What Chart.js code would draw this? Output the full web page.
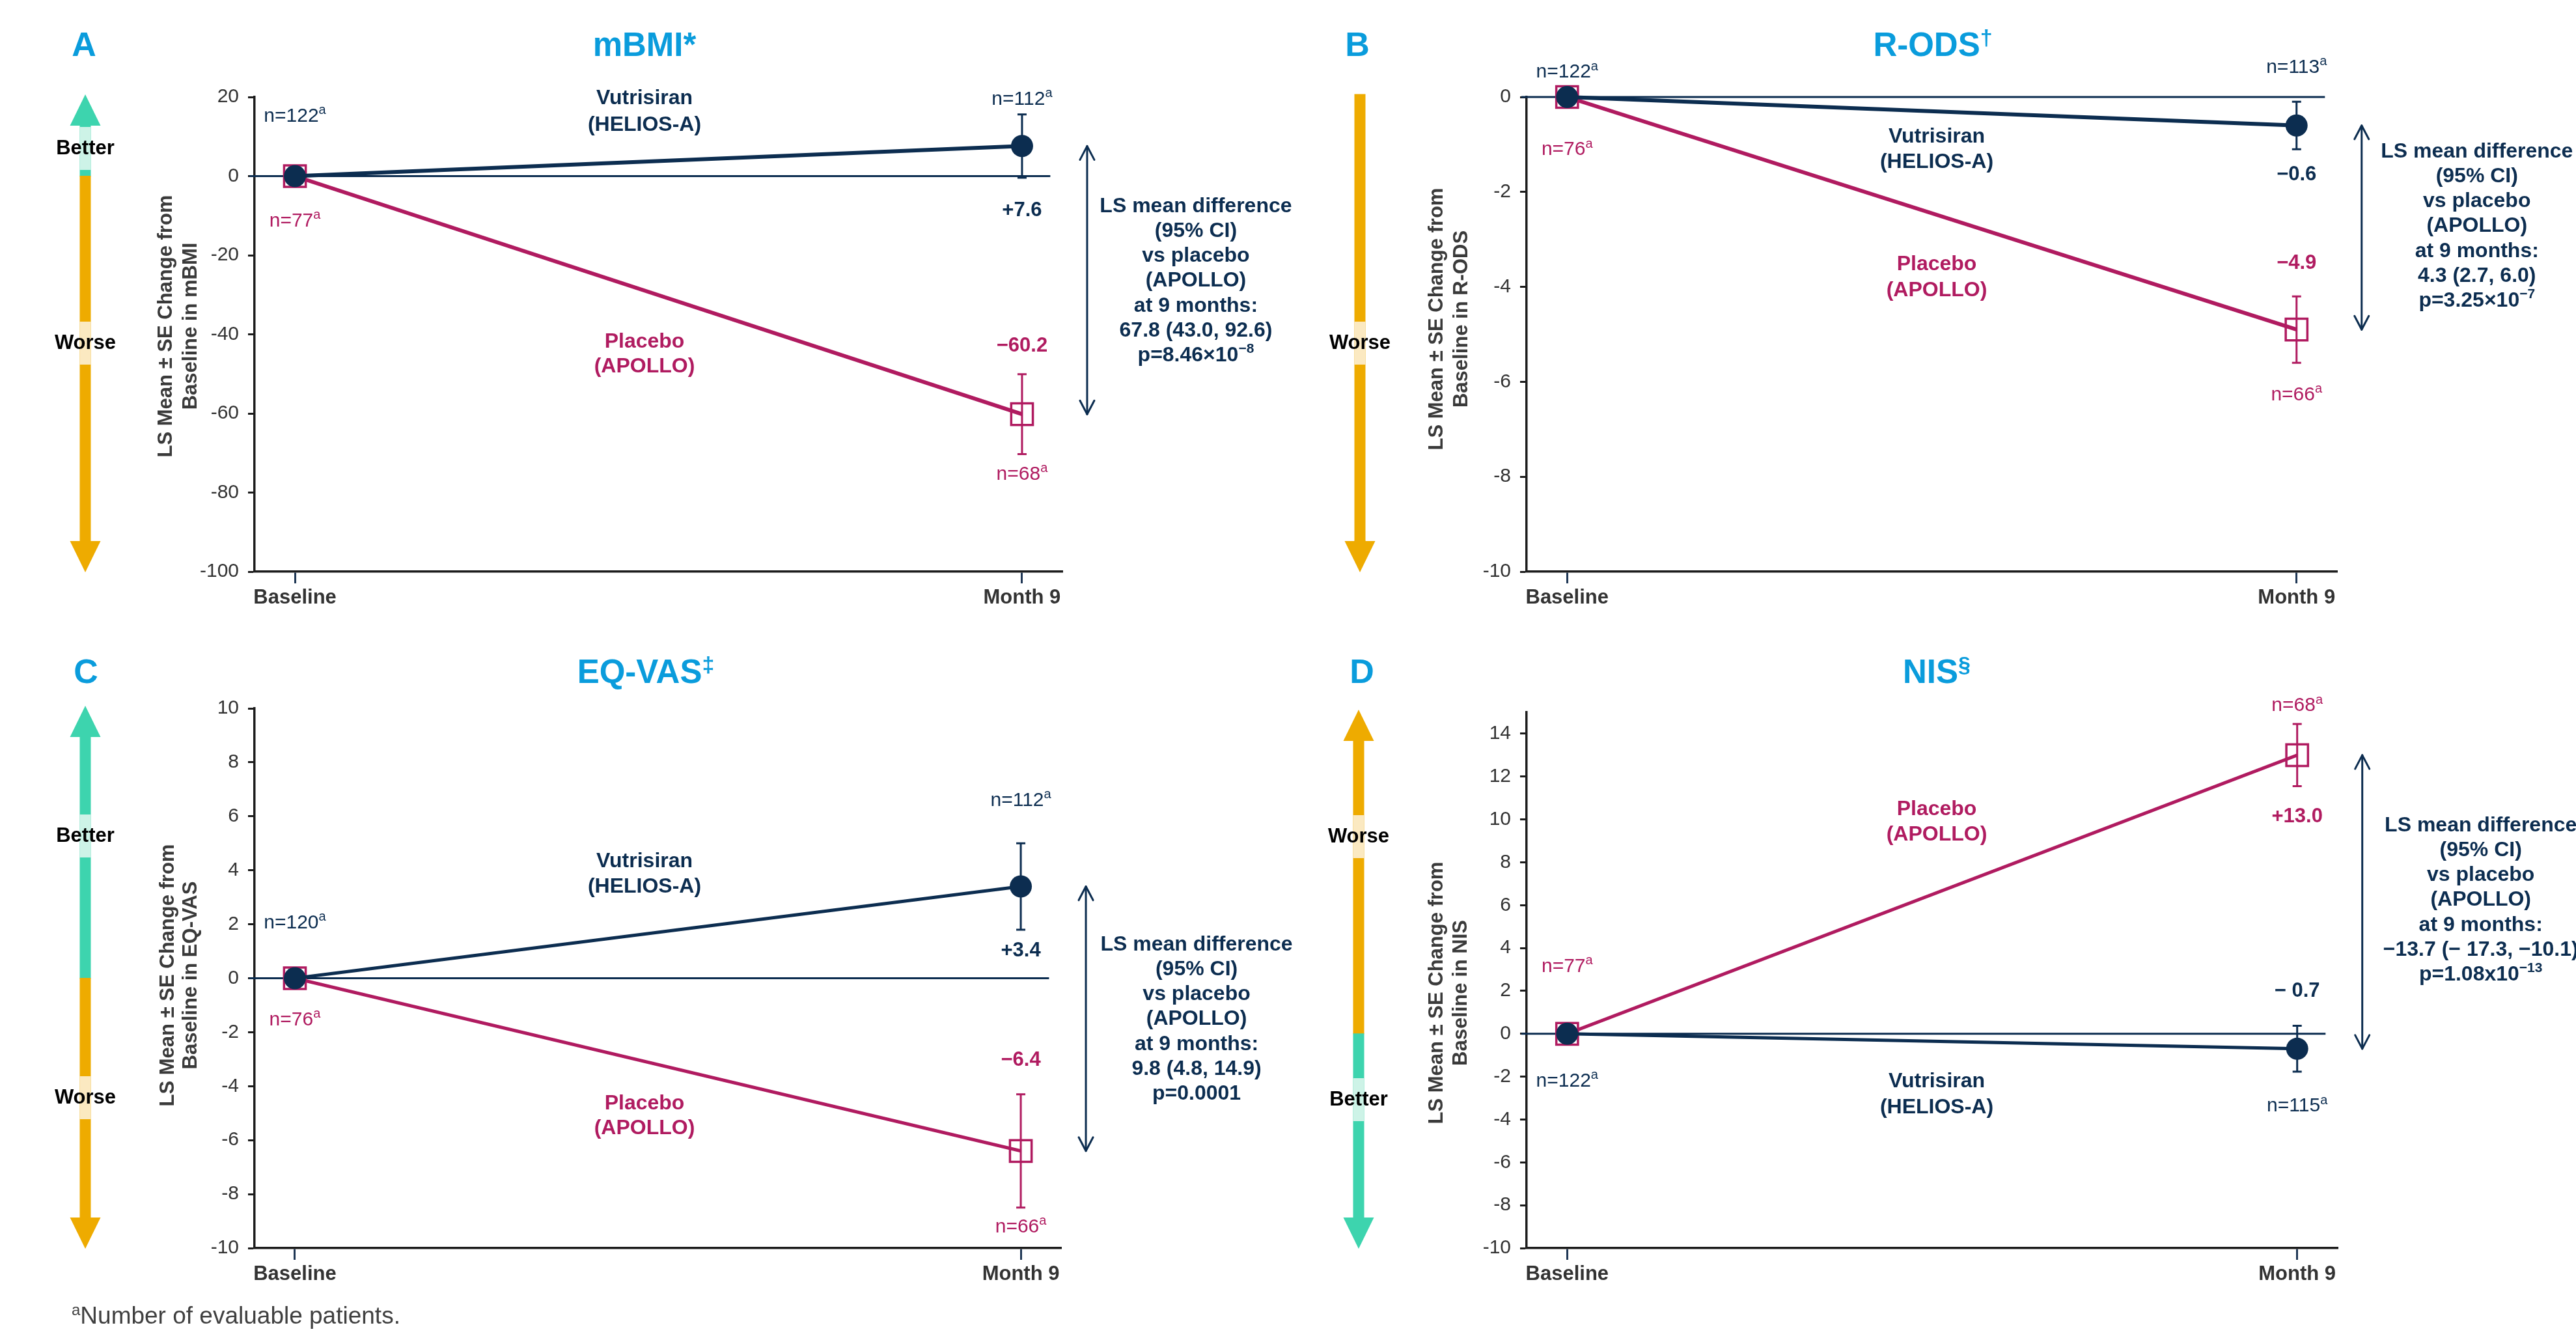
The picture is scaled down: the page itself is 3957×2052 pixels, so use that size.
<!DOCTYPE html>
<html><head><meta charset="utf-8">
<script src="https://cdn.jsdelivr.net/npm/chart.js@4.4.1/dist/chart.umd.min.js"></script>
<style>
html,body{margin:0;padding:0;background:#fff;width:3957px;height:2052px;overflow:hidden;}
canvas{position:absolute;}
</style></head><body>
<script>
// ---------------- DATA ----------------
const timepoints = ['Baseline', 'Month 9'];
const monthValues = [0, 9];

const mbmiVutrisiran = [0, 7.6];
const mbmiVutrisiranSE = [0, 8.0];
const mbmiPlacebo = [0, -60.2];
const mbmiPlaceboSE = [0, 10.1];
const mbmiVutrisiranN = [122, 112];
const mbmiPlaceboN = [77, 68];
const mbmiTicks = [20, 0, -20, -40, -60, -80, -100];
const mbmiDiffLines = ['LS mean difference', '(95% CI)', 'vs placebo', '(APOLLO)', 'at 9 months:', '67.8 (43.0, 92.6)'];
const mbmiP = ['p=8.46×10', '−8'];

const rodsVutrisiran = [0, -0.6];
const rodsVutrisiranSE = [0, 0.5];
const rodsPlacebo = [0, -4.9];
const rodsPlaceboSE = [0, 0.7];
const rodsVutrisiranN = [122, 113];
const rodsPlaceboN = [76, 66];
const rodsTicks = [0, -2, -4, -6, -8, -10];
const rodsDiffLines = ['LS mean difference', '(95% CI)', 'vs placebo', '(APOLLO)', 'at 9 months:', '4.3 (2.7, 6.0)'];
const rodsP = ['p=3.25×10', '−7'];

const eqvasVutrisiran = [0, 3.4];
const eqvasVutrisiranSE = [0, 1.6];
const eqvasPlacebo = [0, -6.4];
const eqvasPlaceboSE = [0, 2.1];
const eqvasVutrisiranN = [120, 112];
const eqvasPlaceboN = [76, 66];
const eqvasTicks = [10, 8, 6, 4, 2, 0, -2, -4, -6, -8, -10];
const eqvasDiffLines = ['LS mean difference', '(95% CI)', 'vs placebo', '(APOLLO)', 'at 9 months:', '9.8 (4.8, 14.9)'];
const eqvasP = ['p=0.0001', ''];

const nisVutrisiran = [0, -0.7];
const nisVutrisiranSE = [0, 1.07];
const nisPlacebo = [0, 13.0];
const nisPlaceboSE = [0, 1.45];
const nisVutrisiranN = [122, 115];
const nisPlaceboN = [77, 68];
const nisTicks = [14, 12, 10, 8, 6, 4, 2, 0, -2, -4, -6, -8, -10];
const nisDiffLines = ['LS mean difference', '(95% CI)', 'vs placebo', '(APOLLO)', 'at 9 months:', '−13.7 (− 17.3, −10.1)'];
const nisP = ['p=1.08x10', '−13'];

// ---------------- STYLE ----------------
const FAM = '"Liberation Sans", Arial, Helvetica, sans-serif';
const f = (size, bold) => (bold ? 'bold ' : '') + size + 'px ' + FAM;
const NAVY = '#0c2d50';
const MAGENTA = '#b01b60';
const BLUE = '#0a9cdc';
const AXIS = '#1c1c1c';
const TICKTXT = '#333333';
const GREEN = '#3dd4ae', PALE_G = '#cdf3e7', ORANGE = '#eeab00', PALE_O = '#fbe9c1';
const YW = 130, XH = 70, ZERO_END = 9.35;

Chart.defaults.font.family = FAM;

function fmtVal(v, gap) {
  const s = Math.abs(v).toFixed(1);
  return v > 0 ? '+' + s : '−' + (gap ? ' ' : '') + s;
}

const panels = [
  { letter: 'A', title: 'mBMI', sup: '*', supSize: 51, supDy: 0,
    canvas: { x: 0, y: 0, w: 2030, h: 1000 }, area: { left: 391, top: 149, right: 1632, bottom: 878 },
    yMin: -100, yMax: 20, yTicks: mbmiTicks,
    vut: mbmiVutrisiran, vutSE: mbmiVutrisiranSE, pla: mbmiPlacebo, plaSE: mbmiPlaceboSE,
    vutN: mbmiVutrisiranN, plaN: mbmiPlaceboN, diff: mbmiDiffLines, p: mbmiP, lw: 6,
    letterPos: [129, 72], titlePos: [990, 72],
    yTitle: { lines: ['LS Mean ± SE Change from', 'Baseline in mBMI'], x: [255, 293], y: 501 },
    arrow: { x: 131, upper: GREEN, lower: ORANGE, topHead: true, bottomHead: true,
      labels: [{ t: 'Better', y: 228, pale: PALE_G }, { t: 'Worse', y: 527, pale: PALE_O }] },
    base: { vut: -92, pla: 69 },
    m9: { vutN: ['top', -23], vutV: ['bottom', 51], plaV: ['top', -43], plaN: ['bottom', 31] },
    series: { x: 990, vut: [151, 192], pla: [525, 563] },
    block: { dx: 267, y: 317 }, gap: false },
  { letter: 'B', title: 'R-ODS', sup: '†', supSize: 34, supDy: -12,
    canvas: { x: 2030, y: 0, w: 1927, h: 1000 }, area: { left: 2345, top: 149, right: 3590, bottom: 878 },
    yMin: -10, yMax: 0, yTicks: rodsTicks,
    vut: rodsVutrisiran, vutSE: rodsVutrisiranSE, pla: rodsPlacebo, plaSE: rodsPlaceboSE,
    vutN: rodsVutrisiranN, plaN: rodsPlaceboN, diff: rodsDiffLines, p: rodsP, lw: 6,
    letterPos: [2085, 72], titlePos: [2969, 72],
    yTitle: { lines: ['LS Mean ± SE Change from', 'Baseline in R-ODS'], x: [2207, 2245], y: 490 },
    arrow: { x: 2089, upper: ORANGE, lower: ORANGE, topHead: false, bottomHead: true,
      labels: [{ t: 'Worse', y: 527, pale: PALE_O }] },
    base: { vut: -38, pla: 81 },
    m9: { vutN: ['top', -53], vutV: ['bottom', 39], plaV: ['top', -51], plaN: ['bottom', 49] },
    series: { x: 2975, vut: [210, 249], pla: [406, 446] },
    block: { dx: 277, y: 233 }, gap: false },
  { letter: 'C', title: 'EQ-VAS', sup: '‡', supSize: 34, supDy: -12,
    canvas: { x: 0, y: 1000, w: 2030, h: 1052 }, area: { left: 391, top: 1088, right: 1630, bottom: 1917 },
    yMin: -10, yMax: 10, yTicks: eqvasTicks,
    vut: eqvasVutrisiran, vutSE: eqvasVutrisiranSE, pla: eqvasPlacebo, plaSE: eqvasPlaceboSE,
    vutN: eqvasVutrisiranN, plaN: eqvasPlaceboN, diff: eqvasDiffLines, p: eqvasP, lw: 5,
    letterPos: [132, 1035], titlePos: [992, 1035],
    yTitle: { lines: ['LS Mean ± SE Change from', 'Baseline in EQ-VAS'], x: [258, 293], y: 1498 },
    arrow: { x: 131, upper: GREEN, lower: ORANGE, topHead: true, bottomHead: true,
      labels: [{ t: 'Better', y: 1284, pale: PALE_G }, { t: 'Worse', y: 1686, pale: PALE_O }] },
    base: { vut: -85, pla: 64 },
    m9: { vutN: ['top', -66], vutV: ['bottom', 33], plaV: ['top', -52], plaN: ['bottom', 30] },
    series: { x: 990, vut: [1323, 1362], pla: [1695, 1733] },
    block: { dx: 270, y: 1451 }, gap: false, footnote: true },
  { letter: 'D', title: 'NIS', sup: '§', supSize: 34, supDy: -12,
    canvas: { x: 2030, y: 1000, w: 1927, h: 1052 }, area: { left: 2345, top: 1094, right: 3591, bottom: 1917 },
    yMin: -10, yMax: 15, yTicks: nisTicks,
    vut: nisVutrisiran, vutSE: nisVutrisiranSE, pla: nisPlacebo, plaSE: nisPlaceboSE,
    vutN: nisVutrisiranN, plaN: nisPlaceboN, diff: nisDiffLines, p: nisP, lw: 5,
    letterPos: [2092, 1035], titlePos: [2975, 1035],
    yTitle: { lines: ['LS Mean ± SE Change from', 'Baseline in NIS'], x: [2207, 2244], y: 1525 },
    arrow: { x: 2087, upper: ORANGE, lower: GREEN, topHead: true, bottomHead: true,
      labels: [{ t: 'Worse', y: 1285, pale: PALE_O }, { t: 'Better', y: 1689, pale: PALE_G }] },
    base: { vut: 73, pla: -103 },
    m9: { plaN: ['top', -28], plaV: ['bottom', 47], vutV: ['top', -53], vutN: ['bottom', 53] },
    series: { x: 2975, pla: [1243, 1282], vut: [1661, 1701] },
    block: { dx: 282, y: 1268 }, gap: true }
];

// ---------------- HELPERS ----------------
function drawRich(ctx, parts, cx, cy, align) {
  let w = 0;
  parts.forEach(pt => { ctx.font = pt.font; pt.w = ctx.measureText(pt.t).width; w += pt.w; });
  let x = align === 'left' ? cx : cx - w / 2;
  ctx.textAlign = 'left'; ctx.textBaseline = 'middle';
  parts.forEach(pt => { ctx.font = pt.font; ctx.fillStyle = pt.color; ctx.fillText(pt.t, x, cy + (pt.dy || 0)); x += pt.w; });
}
function nLabel(ctx, n, color, x, y) {
  drawRich(ctx, [{ t: 'n=' + n, font: f(30), color }, { t: 'a', font: f(20), color, dy: -9 }], x, y);
}
function text(ctx, t, x, y, font, color) {
  ctx.font = font; ctx.fillStyle = color; ctx.textAlign = 'center'; ctx.textBaseline = 'middle';
  ctx.fillText(t, x, y);
}

function makePlugin(p) {
  const ox = p.canvas.x, oy = p.canvas.y;
  return {
    id: 'decor' + p.letter,
    beforeDatasetsDraw(chart) {
      const ctx = chart.ctx, xs = chart.scales.x, ys = chart.scales.y, ca = chart.chartArea;
      const X = v => xs.getPixelForValue(v) + ox, Y = v => ys.getPixelForValue(v) + oy;
      ctx.save(); ctx.translate(-ox, -oy);
      // zero reference line
      ctx.strokeStyle = NAVY; ctx.lineWidth = 3;
      ctx.beginPath(); ctx.moveTo(ca.left + ox - 8, Y(0)); ctx.lineTo(X(ZERO_END), Y(0)); ctx.stroke();
      // error bars
      [[p.vut, p.vutSE, NAVY], [p.pla, p.plaSE, MAGENTA]].forEach(([vals, se, col]) => {
        vals.forEach((v, i) => {
          if (!se[i]) return;
          const x = X(monthValues[i]), y1 = Y(v + se[i]), y2 = Y(v - se[i]);
          ctx.strokeStyle = col; ctx.lineWidth = 3;
          ctx.beginPath();
          ctx.moveTo(x, y1); ctx.lineTo(x, y2);
          ctx.moveTo(x - 7, y1); ctx.lineTo(x + 7, y1);
          ctx.moveTo(x - 7, y2); ctx.lineTo(x + 7, y2);
          ctx.stroke();
        });
      });
      ctx.restore();
    },
    afterDraw(chart) {
      const ctx = chart.ctx, xs = chart.scales.x, ys = chart.scales.y, ca = chart.chartArea;
      const X = v => xs.getPixelForValue(v) + ox, Y = v => ys.getPixelForValue(v) + oy;
      const top = ca.top + oy, bottom = ca.bottom + oy;
      ctx.save(); ctx.translate(-ox, -oy);

      // panel letter and title
      text(ctx, p.letter, p.letterPos[0], p.letterPos[1], f(52, true), BLUE);
      drawRich(ctx, [{ t: p.title, font: f(51, true), color: BLUE },
        { t: p.sup, font: f(p.supSize, true), color: BLUE, dy: p.supDy }], p.titlePos[0], p.titlePos[1]);

      // y-axis title
      p.yTitle.lines.forEach((ln, i) => {
        ctx.save(); ctx.translate(p.yTitle.x[i], p.yTitle.y); ctx.rotate(-Math.PI / 2);
        text(ctx, ln, 0, 0, f(31, true), '#3a3a3a');
        ctx.restore();
      });

      // better/worse arrow
      const a = p.arrow, y0 = Y(0), hw = 8.5, headHW = 23.5, headH = 48;
      const tTop = top - 4, tBot = bottom + 1;
      const sTop = a.topHead ? tTop + headH : tTop, sBot = a.bottomHead ? tBot - headH : tBot;
      const split = a.upper === a.lower ? sBot : Math.min(Math.max(y0, sTop), sBot);
      ctx.fillStyle = a.upper; ctx.fillRect(a.x - hw, sTop - 0.5, hw * 2, split - sTop + 1);
      ctx.fillStyle = a.lower; ctx.fillRect(a.x - hw, split - 0.5, hw * 2, sBot - split + 1);
      if (a.topHead) {
        ctx.fillStyle = a.upper; ctx.beginPath();
        ctx.moveTo(a.x, tTop); ctx.lineTo(a.x + headHW, tTop + headH); ctx.lineTo(a.x - headHW, tTop + headH); ctx.closePath(); ctx.fill();
      }
      if (a.bottomHead) {
        ctx.fillStyle = a.lower; ctx.beginPath();
        ctx.moveTo(a.x, tBot); ctx.lineTo(a.x + headHW, tBot - headH); ctx.lineTo(a.x - headHW, tBot - headH); ctx.closePath(); ctx.fill();
      }
      a.labels.forEach(l => {
        ctx.fillStyle = l.pale; ctx.fillRect(a.x - hw, Math.max(l.y - 33, sTop), hw * 2, Math.min(l.y + 33, split > l.y ? split : sBot) - Math.max(l.y - 33, sTop));
        text(ctx, l.t, a.x, l.y, f(31, true), '#000');
      });

      // n labels at baseline
      const bx = X(monthValues[0]);
      nLabel(ctx, p.vutN[0], NAVY, bx, y0 + p.base.vut);
      nLabel(ctx, p.plaN[0], MAGENTA, bx, y0 + p.base.pla);

      // month 9 labels
      const mx = X(monthValues[1]);
      const ref = (vals, se, r) => r[0] === 'top' ? Y(vals[1] + se[1]) + r[1] : Y(vals[1] - se[1]) + r[1];
      nLabel(ctx, p.vutN[1], NAVY, mx, ref(p.vut, p.vutSE, p.m9.vutN));
      nLabel(ctx, p.plaN[1], MAGENTA, mx, ref(p.pla, p.plaSE, p.m9.plaN));
      text(ctx, fmtVal(p.vut[1], p.gap), mx, ref(p.vut, p.vutSE, p.m9.vutV), f(31, true), NAVY);
      text(ctx, fmtVal(p.pla[1], false), mx, ref(p.pla, p.plaSE, p.m9.plaV), f(31, true), MAGENTA);

      // series labels
      text(ctx, 'Vutrisiran', p.series.x, p.series.vut[0], f(32, true), NAVY);
      text(ctx, '(HELIOS-A)', p.series.x, p.series.vut[1], f(32, true), NAVY);
      text(ctx, 'Placebo', p.series.x, p.series.pla[0], f(32, true), MAGENTA);
      text(ctx, '(APOLLO)', p.series.x, p.series.pla[1], f(32, true), MAGENTA);

      // double-headed difference arrow
      const ax = mx + 100, ay1 = Y(p.vut[1]), ay2 = Y(p.pla[1]);
      const yt = Math.min(ay1, ay2), yb = Math.max(ay1, ay2);
      ctx.strokeStyle = NAVY; ctx.lineWidth = 3; ctx.lineCap = 'round'; ctx.lineJoin = 'round';
      ctx.beginPath(); ctx.moveTo(ax, yt); ctx.lineTo(ax, yb); ctx.stroke();
      ctx.beginPath(); ctx.moveTo(ax - 11, yt + 21); ctx.lineTo(ax, yt); ctx.lineTo(ax + 11, yt + 21); ctx.stroke();
      ctx.beginPath(); ctx.moveTo(ax - 11, yb - 21); ctx.lineTo(ax, yb); ctx.lineTo(ax + 11, yb - 21); ctx.stroke();

      // difference text block
      const bxc = mx + p.block.dx;
      p.diff.forEach((ln, i) => text(ctx, ln, bxc, p.block.y + i * 38.2, f(32, true), NAVY));
      drawRich(ctx, [{ t: p.p[0], font: f(32, true), color: NAVY }, { t: p.p[1], font: f(21, true), color: NAVY, dy: -10 }],
        bxc, p.block.y + 6 * 38.2);

      // footnote
      if (p.footnote) {
        drawRich(ctx, [{ t: 'a', font: f(24), color: '#404040', dy: -10 }, { t: 'Number of evaluable patients.', font: f(37), color: '#404040' }], 110, 2023, 'left');
      }
      ctx.restore();
    }
  };
}

// ---------------- BUILD ----------------
panels.forEach(p => {
  const cv = document.createElement('canvas');
  cv.width = p.canvas.w; cv.height = p.canvas.h;
  cv.style.left = p.canvas.x + 'px'; cv.style.top = p.canvas.y + 'px';
  cv.style.width = p.canvas.w + 'px'; cv.style.height = p.canvas.h + 'px';
  document.body.appendChild(cv);
  const pad = {
    left: p.area.left - p.canvas.x - YW,
    top: p.area.top - p.canvas.y,
    right: p.canvas.x + p.canvas.w - p.area.right,
    bottom: p.canvas.y + p.canvas.h - p.area.bottom - XH
  };
  new Chart(cv, {
    type: 'line',
    data: {
      datasets: [
        { label: 'Vutrisiran (HELIOS-A)', data: monthValues.map((m, i) => ({ x: m, y: p.vut[i] })),
          borderColor: NAVY, backgroundColor: NAVY, borderWidth: p.lw, pointStyle: 'circle', pointRadius: 17,
          pointBackgroundColor: NAVY, pointBorderColor: NAVY, pointBorderWidth: 0, order: 0, clip: false, tension: 0 },
        { label: 'Placebo (APOLLO)', data: monthValues.map((m, i) => ({ x: m, y: p.pla[i] })),
          borderColor: MAGENTA, backgroundColor: 'rgba(255,255,255,0)', borderWidth: p.lw, pointStyle: 'rect', pointRadius: 23.5,
          pointBackgroundColor: 'rgba(255,255,255,0)', pointBorderColor: MAGENTA, pointBorderWidth: 3.5, order: 1, clip: false, tension: 0 }
      ]
    },
    options: {
      responsive: false, animation: false, devicePixelRatio: 1,
      layout: { padding: pad },
      plugins: { legend: { display: false }, tooltip: { enabled: false }, title: { display: false } },
      scales: {
        x: {
          type: 'linear', min: -0.5, max: 9.5, position: 'bottom',
          afterBuildTicks: s => { s.ticks = monthValues.map(v => ({ value: v })); },
          afterFit: s => { s.height = XH; },
          ticks: { callback: (v, i) => timepoints[i], font: { size: 31, weight: 'bold' }, color: TICKTXT, padding: 4, maxRotation: 0, autoSkip: false },
          grid: { drawOnChartArea: false, drawTicks: true, tickLength: 18, tickWidth: 3, tickColor: '#1f3755' },
          border: { display: true, color: AXIS, width: 3.5 }
        },
        y: {
          type: 'linear', min: p.yMin, max: p.yMax,
          afterBuildTicks: s => { s.ticks = p.yTicks.map(v => ({ value: v })); },
          afterFit: s => { s.width = YW; },
          ticks: { callback: v => String(v), font: { size: 30 }, color: TICKTXT, padding: 14, autoSkip: false },
          grid: { drawOnChartArea: false, drawTicks: true, tickLength: 10, tickWidth: 3, tickColor: AXIS },
          border: { display: true, color: AXIS, width: 3.5 }
        }
      }
    },
    plugins: [makePlugin(p)]
  });
});
</script>
</body></html>
